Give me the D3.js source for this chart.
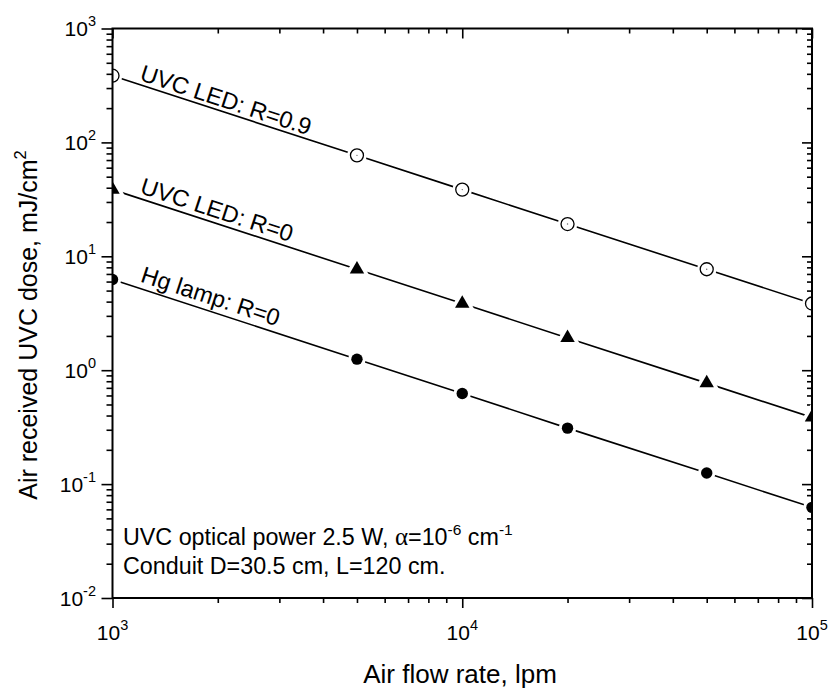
<!DOCTYPE html>
<html><head><meta charset="utf-8">
<script src="https://cdn.jsdelivr.net/npm/d3@7"></script>
<style>
body{margin:0;background:#fff}
svg{font-family:Arial,"Liberation Sans",sans-serif;display:block}
</style>
</head><body>
<svg id="chart" width="832" height="688"></svg>
<script>
// ---- data ----
const flowRates = [1000, 5000, 10000, 20000, 50000, 100000];
const ledR09 = [385, 77, 38.5, 19.2, 7.7, 3.85];
const ledR0  = [38.5, 7.7, 3.85, 1.92, 0.77, 0.385];
const hgR0   = [6.25, 1.25, 0.625, 0.31, 0.125, 0.0625];
const seriesNames = ["UVC LED: R=0.9", "UVC LED: R=0", "Hg lamp: R=0"];
const xTickExps = [3, 4, 5];
const yTickExps = [-2, -1, 0, 1, 2, 3];
const xTitle = "Air flow rate, lpm";
const yTitle = "Air received UVC dose, mJ/cm";
const noteLine1 = ["UVC optical power 2.5 W, ", "α", "=10", "-6", " cm", "-1"];
const noteLine2 = "Conduit D=30.5 cm, L=120 cm.";

// ---- layout ----
const L = 112.5, R = 812, T = 28.5, B = 598;
const svg = d3.select("#chart");
const x = d3.scaleLog().domain([1e3, 1e5]).range([L, R]);
const y = d3.scaleLog().domain([1e-2, 1e3]).range([B, T]);

const xMajor = xTickExps.map(e => Math.pow(10, e));
const yMajor = yTickExps.map(e => Math.pow(10, e));
const minors = (exps) => {
  const out = [];
  for (let i = 0; i < exps.length - 1; i++)
    for (let m = 2; m <= 9; m++) out.push(m * Math.pow(10, exps[i]));
  return out;
};
const xMinor = minors(xTickExps);
const yMinor = minors(yTickExps);

function styleAxis(g) {
  g.select(".domain").remove();
  g.selectAll(".tick line").attr("stroke", "#000").attr("stroke-width", 1.6);
  g.selectAll(".tick text").remove();
}
// bottom (outward)
svg.append("g").attr("transform", `translate(0,${B})`)
  .call(d3.axisBottom(x).tickValues(xMajor).tickSize(10).tickFormat(() => "")).call(styleAxis);
svg.append("g").attr("transform", `translate(0,${B})`)
  .call(d3.axisBottom(x).tickValues(xMinor).tickSize(5).tickFormat(() => "")).call(styleAxis);
// top (inward)
svg.append("g").attr("transform", `translate(0,${T})`)
  .call(d3.axisTop(x).tickValues(xMajor).tickSize(-10).tickFormat(() => "")).call(styleAxis);
svg.append("g").attr("transform", `translate(0,${T})`)
  .call(d3.axisTop(x).tickValues(xMinor).tickSize(-5).tickFormat(() => "")).call(styleAxis);
// left (outward)
svg.append("g").attr("transform", `translate(${L},0)`)
  .call(d3.axisLeft(y).tickValues(yMajor).tickSize(11).tickFormat(() => "")).call(styleAxis);
svg.append("g").attr("transform", `translate(${L},0)`)
  .call(d3.axisLeft(y).tickValues(yMinor).tickSize(6).tickFormat(() => "")).call(styleAxis);
// right (inward)
svg.append("g").attr("transform", `translate(${R},0)`)
  .call(d3.axisRight(y).tickValues(yMajor).tickSize(-10).tickFormat(() => "")).call(styleAxis);
svg.append("g").attr("transform", `translate(${R},0)`)
  .call(d3.axisRight(y).tickValues(yMinor).tickSize(-5).tickFormat(() => "")).call(styleAxis);

// tick labels
xTickExps.forEach(e => {
  const t = svg.append("text").attr("x", x(Math.pow(10, e))).attr("y", B + 41.5)
    .attr("text-anchor", "middle").attr("font-size", 21);
  t.append("tspan").text("10");
  t.append("tspan").attr("dy", -10).attr("font-size", 14.5).text(e);
});
yTickExps.forEach(e => {
  const t = svg.append("text").attr("x", 96).attr("y", y(Math.pow(10, e)) + 7.5)
    .attr("text-anchor", "end").attr("font-size", 21);
  t.append("tspan").text("10");
  t.append("tspan").attr("dy", -10).attr("font-size", 14.5).text(e);
});

// axis titles
svg.append("text").attr("x", 460).attr("y", 683).attr("text-anchor", "middle")
  .attr("font-size", 26).text(xTitle);
const yt = svg.append("text").attr("transform", "translate(37,325) rotate(-90)")
  .attr("text-anchor", "middle").attr("font-size", 25);
yt.append("tspan").text(yTitle);
yt.append("tspan").attr("dy", -11).attr("font-size", 16.5).text("2");

// ---- data marks ----
const defs = svg.append("defs");
defs.append("clipPath").attr("id", "plotclip").append("rect")
  .attr("x", L).attr("y", T).attr("width", R - L).attr("height", B - T);
const plot = svg.append("g").attr("clip-path", "url(#plotclip)");

const seriesValues = [ledR09, ledR0, hgR0];
const markerKinds = ["open", "triangle", "filled"];
const line = d3.line().x(d => x(d[0])).y(d => y(d[1]));

seriesValues.forEach((vals, si) => {
  const pts = flowRates.map((f, i) => [f, vals[i]]);
  plot.append("path").attr("d", line(pts)).attr("fill", "none")
    .attr("stroke", "#000").attr("stroke-width", 1.6);
});
seriesValues.forEach((vals, si) => {
  const kind = markerKinds[si];
  const pts = flowRates.map((f, i) => [x(f), y(vals[i])]);
  pts.forEach(([px, py]) => {
    if (kind === "triangle") {
      const sym = d3.symbol().type(d3.symbolTriangle).size(90)();
      plot.append("path").attr("d", sym).attr("transform", `translate(${px},${py})`)
        .attr("fill", "#fff").attr("stroke", "#fff").attr("stroke-width", 7);
      plot.append("path").attr("d", sym).attr("transform", `translate(${px},${py})`)
        .attr("fill", "#000");
    } else if (kind === "open") {
      plot.append("circle").attr("cx", px).attr("cy", py).attr("r", 9.8).attr("fill", "#fff");
      plot.append("circle").attr("cx", px).attr("cy", py).attr("r", 6.5)
        .attr("fill", "#fff").attr("stroke", "#000").attr("stroke-width", 1.3);
      plot.append("circle").attr("cx", px).attr("cy", py).attr("r", 0.7).attr("fill", "#666");
    } else {
      plot.append("circle").attr("cx", px).attr("cy", py).attr("r", 8.7).attr("fill", "#fff");
      plot.append("circle").attr("cx", px).attr("cy", py).attr("r", 5.7).attr("fill", "#000");
    }
  });
});

// series labels along lines
const labelOffsets = [4, 5, 6.5];
seriesValues.forEach((vals, si) => {
  const x0 = x(flowRates[0]), y0 = y(vals[0]);
  const x1 = x(flowRates[1]), y1 = y(vals[1]);
  const ang = Math.atan2(y1 - y0, x1 - x0);
  const t = 25 / (x1 - x0);
  const bx = x0 + t * (x1 - x0), by = y0 + t * (y1 - y0);
  const off = labelOffsets[si];
  const lx = bx + off * Math.sin(ang), ly = by - off * Math.cos(ang);
  svg.append("text").attr("font-size", 23.5)
    .attr("transform", `translate(${lx},${ly}) rotate(${ang * 180 / Math.PI})`)
    .text(seriesNames[si]);
});

// frame
svg.append("rect").attr("x", L).attr("y", T).attr("width", R - L).attr("height", B - T)
  .attr("fill", "none").attr("stroke", "#000").attr("stroke-width", 2);

// annotation
const n1 = svg.append("text").attr("x", 123).attr("y", 545).attr("font-size", 23.3);
n1.append("tspan").text(noteLine1[0]);
n1.append("tspan").attr("font-family", "'Liberation Serif','DejaVu Serif',serif").attr("font-size", 25).text(noteLine1[1]);
n1.append("tspan").text(noteLine1[2]);
n1.append("tspan").attr("dy", -10).attr("font-size", 15.5).text(noteLine1[3]);
n1.append("tspan").attr("dy", 10).text(noteLine1[4]);
n1.append("tspan").attr("dy", -10).attr("font-size", 15.5).text(noteLine1[5]);
svg.append("text").attr("x", 123).attr("y", 574).attr("font-size", 23.3).text(noteLine2);
</script>
</body></html>
